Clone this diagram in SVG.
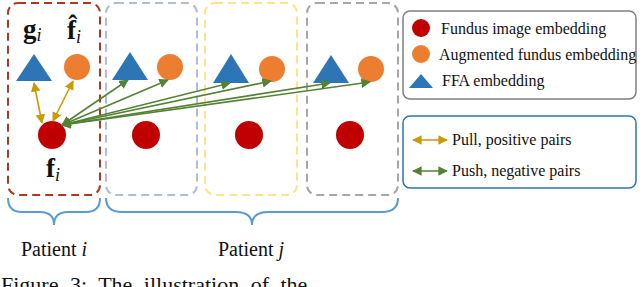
<svg xmlns="http://www.w3.org/2000/svg" width="640" height="287" viewBox="0 0 640 287">
<style>
.box{fill:none;stroke-width:2;stroke-dasharray:8 5}
.tri{fill:#2E75B6}
.org{fill:#ED7D31}
.red{fill:#C00000}
.lbl{font-family:"Liberation Serif",serif;fill:#111}
.leg{font-family:"Liberation Serif",serif;font-size:16px;fill:#111}
.pull{stroke:#C99A06;stroke-width:1.6;fill:none}
.push{stroke:#548235;stroke-width:1.6;fill:none}
.brace{fill:none;stroke:#5B9BD5;stroke-width:2}
</style>
<defs>
<marker id="ag" viewBox="0 0 10 10" refX="9" refY="5" markerWidth="6" markerHeight="6" orient="auto-start-reverse" markerUnits="strokeWidth">
<path d="M0,0 L10,5 L0,10 z" fill="#C99A06"/>
</marker>
<marker id="an" viewBox="0 0 10 10" refX="9" refY="5" markerWidth="6" markerHeight="6" orient="auto-start-reverse" markerUnits="strokeWidth">
<path d="M0,0 L10,5 L0,10 z" fill="#548235"/>
</marker>
</defs>
<rect width="640" height="287" fill="#fff"/>

<g id="patient-i">
<rect class="box" x="8" y="3" width="92" height="192" rx="10" stroke="#AE3A1E"/>
<polygon class="tri" points="34,54 16,81 52,81"/>
<circle class="org" cx="77" cy="67" r="13"/>
<circle class="red" cx="52" cy="135" r="14"/>
<text class="lbl" x="23" y="38" font-size="27" font-weight="bold">g<tspan font-size="18" font-style="italic" font-weight="normal" dy="3">i</tspan></text>
<text class="lbl" x="67" y="39" font-size="27" font-weight="bold">f̂<tspan font-size="18" font-style="italic" font-weight="normal" dy="4">i</tspan></text>
<text class="lbl" x="46" y="177" font-size="27" font-weight="bold">f<tspan font-size="18" font-style="italic" font-weight="normal" dy="4">i</tspan></text>
</g>

<g id="patient-j1">
<rect class="box" x="106" y="3" width="91" height="192" rx="10" stroke="#AFBED8"/>
<polygon class="tri" points="130,52 112,80 148,80"/>
<circle class="org" cx="170" cy="67" r="13"/>
<circle class="red" cx="146" cy="135" r="14"/>
</g>

<g id="patient-j2">
<rect class="box" x="205" y="3" width="92" height="192" rx="10" stroke="#FFE38C"/>
<polygon class="tri" points="231,54 213,83 249,83"/>
<circle class="org" cx="272" cy="69" r="13"/>
<circle class="red" cx="249" cy="135" r="14"/>
</g>

<g id="patient-j3">
<rect class="box" x="307" y="3" width="91" height="192" rx="10" stroke="#A6A6A6"/>
<polygon class="tri" points="331,55 313,83 349,83"/>
<circle class="org" cx="371" cy="69" r="13"/>
<circle class="red" cx="350" cy="135" r="14"/>
</g>

<g id="connectors">
<line class="pull" x1="42" y1="123" x2="34" y2="83" marker-start="url(#ag)" marker-end="url(#ag)"/>
<line class="pull" x1="53" y1="121" x2="73" y2="81" marker-start="url(#ag)" marker-end="url(#ag)"/>
<line class="push" x1="62" y1="125" x2="128" y2="80" marker-start="url(#an)" marker-end="url(#an)"/>
<line class="push" x1="62" y1="125" x2="168" y2="80" marker-start="url(#an)" marker-end="url(#an)"/>
<line class="push" x1="62" y1="125" x2="230" y2="83" marker-start="url(#an)" marker-end="url(#an)"/>
<line class="push" x1="62" y1="125" x2="271" y2="81" marker-start="url(#an)" marker-end="url(#an)"/>
<line class="push" x1="62" y1="125" x2="330" y2="83" marker-start="url(#an)" marker-end="url(#an)"/>
<line class="push" x1="62" y1="125" x2="370" y2="82" marker-start="url(#an)" marker-end="url(#an)"/>
</g>

<g id="braces">
<path class="brace" d="M8,198 Q8,212 22,212 L40,212 Q54,212 54,225 Q54,212 68,212 L86,212 Q100,212 100,198"/>
<path class="brace" d="M106,198 Q106,212 122,212 L236,212 Q252,212 252,225 Q252,212 268,212 L382,212 Q398,212 398,198"/>
<text class="lbl" x="54" y="256" font-size="20" text-anchor="middle">Patient <tspan font-style="italic">i</tspan></text>
<text class="lbl" x="251" y="256" font-size="20" text-anchor="middle">Patient <tspan font-style="italic">j</tspan></text>
</g>

<g id="legend-nodes">
<rect x="403" y="11" width="233" height="88" rx="7" fill="#fff" stroke="#808080" stroke-width="1.5"/>
<circle class="red" cx="421" cy="28" r="9"/>
<text class="leg" x="441" y="34">Fundus image embedding</text>
<circle class="org" cx="421" cy="54" r="9"/>
<text class="leg" x="439" y="60">Augmented fundus embedding</text>
<polygon class="tri" points="421,74 409,88 433,88"/>
<text class="leg" x="442" y="86">FFA embedding</text>
</g>

<g id="legend-edges">
<rect x="403" y="116" width="233" height="72" rx="7" fill="#fff" stroke="#2E75B6" stroke-width="1.5"/>
<line class="pull" x1="413" y1="140" x2="447" y2="140" marker-start="url(#ag)" marker-end="url(#ag)"/>
<text class="leg" x="452" y="145">Pull, positive pairs</text>
<line class="push" x1="413" y1="171" x2="447" y2="171" marker-start="url(#an)" marker-end="url(#an)"/>
<text class="leg" x="452" y="176">Push, negative pairs</text>
</g>

<text class="lbl" x="1" y="292" font-size="22" word-spacing="6">Figure 3: The illustration of the</text>
</svg>
